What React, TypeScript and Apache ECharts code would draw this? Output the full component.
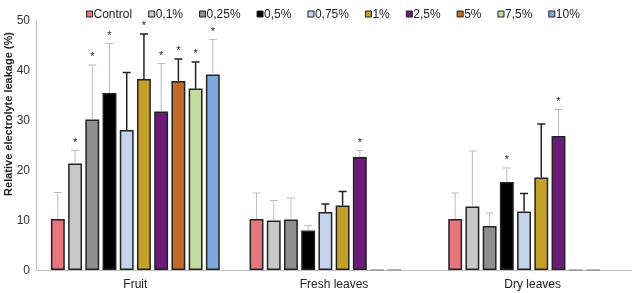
import React, { useEffect, useRef } from "react";
import * as echarts from "echarts";

// Plant material groups on the category axis
const categories = ["Fruit", "Fresh leaves", "Dry leaves"];

// Treatment concentrations (one bar series each)
const treatments = ["Control", "0,1%", "0,25%", "0,5%", "0,75%", "1%", "2,5%", "5%", "7,5%", "10%"];
const treatmentColors = ["#E8767C", "#C8C8C8", "#8E8E8E", "#000000", "#C5D3EC", "#C4A028", "#6B1B78", "#BF6B25", "#C3DAA0", "#7FA8DC"];
// Error bars drawn dark for these treatments, light grey for the rest
const darkErrorBars = [false, false, false, false, true, true, false, true, true, false];

// Mean relative electrolyte leakage (%) per group, in treatment order
const fruitMean = [10.2, 21.3, 30.1, 35.4, 28.0, 38.2, 31.7, 37.8, 36.3, 39.1];
const freshMean = [10.2, 9.9, 10.1, 7.9, 11.6, 12.9, 22.6, 0, 0, null];
const dryMean = [10.2, 12.7, 8.8, 17.6, 11.7, 18.5, 26.8, 0, 0, null];

// Standard deviations (upper error bar)
const fruitSd = [5.3, 2.6, 10.9, 9.9, 11.5, 9.0, 9.6, 4.4, 5.3, 7.0];
const freshSd = [5.2, 4.0, 4.3, 1.0, 1.6, 2.8, 1.3, 0, 0, null];
const drySd = [5.2, 11.1, 2.6, 2.8, 3.6, 10.7, 5.3, 0, 0, null];

// Significance vs. control (1 = marked with an asterisk)
const fruitSig = [0, 1, 1, 1, 0, 1, 1, 1, 1, 1];
const freshSig = [0, 0, 0, 0, 0, 0, 1, 0, 0, 0];
const drySig = [0, 0, 0, 1, 0, 0, 1, 0, 0, 0];

const yTicks = { min: 0, max: 50, interval: 10 };

const FONT = "'Liberation Sans', Arial, sans-serif";
const BAR_GAP = "24%";
const CAT_GAP = "15%";

export default function App() {
  const ref = useRef<HTMLDivElement>(null);

  useEffect(() => {
    if (!ref.current) return;
    const chart = echarts.init(ref.current, undefined, { renderer: "svg" });

    const means = [fruitMean, freshMean, dryMean];
    const sds = [fruitSd, freshSd, drySd];
    const sigs = [fruitSig, freshSig, drySig];

    const barSeries = treatments.map((name, ti) => ({
      name,
      type: "bar",
      barGap: BAR_GAP,
      barCategoryGap: CAT_GAP,
      itemStyle: { color: treatmentColors[ti], borderColor: "#222", borderWidth: 1.5 },
      data: means.map((m) => {
        const v = m[ti];
        if (v === null) return "-";
        if (v === 0) return { value: 0, itemStyle: { borderColor: "#999" } };
        return v;
      }),
    }));

    const errData: number[][] = [];
    means.forEach((m, ci) => {
      m.forEach((v, ti) => {
        const sd = sds[ci][ti];
        if (v === null || sd === null || v === 0) return;
        errData.push([ci, ti, v, sd, sigs[ci][ti]]);
      });
    });

    const errorSeries = {
      type: "custom",
      name: "error",
      z: 5,
      silent: true,
      data: errData,
      renderItem: (params: any, api: any) => {
        const ci = api.value(0);
        const ti = api.value(1);
        const mean = api.value(2);
        const sd = api.value(3);
        const sig = api.value(4);
        const layout = api.barLayout({ count: treatments.length, barGap: BAR_GAP, barCategoryGap: CAT_GAP });
        const x = api.coord([ci, 0])[0] + layout[ti].offsetCenter;
        const yBase = api.coord([ci, mean])[1];
        const yTop = api.coord([ci, mean + sd])[1];
        const dark = darkErrorBars[ti];
        const stroke = dark ? "#222" : "#BDBDBD";
        const lw = dark ? 1.5 : 1;
        const children: any[] = [
          { type: "line", shape: { x1: x, y1: yBase, x2: x, y2: yTop }, style: { stroke, lineWidth: lw } },
          { type: "line", shape: { x1: x - 4, y1: yTop, x2: x + 4, y2: yTop }, style: { stroke, lineWidth: lw } },
        ];
        if (sig) {
          children.push({
            type: "text",
            x,
            y: yTop - 9,
            style: { text: "*", fill: "#222", font: `11px ${FONT}`, align: "center", verticalAlign: "middle" },
          });
        }
        return { type: "group", children };
      },
    };

    chart.setOption({
      animation: false,
      textStyle: { fontFamily: FONT },
      grid: { left: 36, right: -7, top: 20, bottom: 23 },
      legend: {
        data: treatments,
        left: 81,
        top: 3,
        icon: "rect",
        itemWidth: 6,
        itemHeight: 6,
        itemGap: 16,
        itemStyle: { borderWidth: 1, borderColor: "#222" },
        textStyle: { fontSize: 12, color: "#222", fontFamily: FONT, padding: [0, 0, 0, -4] },
      },
      xAxis: {
        type: "category",
        data: categories,
        axisLine: { lineStyle: { color: "#BFBFBF", width: 1 } },
        axisTick: { show: false },
        axisLabel: { fontSize: 12, color: "#222", margin: 8 },
      },
      yAxis: {
        type: "value",
        min: yTicks.min,
        max: yTicks.max,
        interval: yTicks.interval,
        axisLine: { show: true, lineStyle: { color: "#BFBFBF", width: 1 } },
        axisTick: { show: false },
        splitLine: { show: false },
        axisLabel: { fontSize: 12, color: "#333", margin: 6 },
      },
      graphic: [
        {
          type: "text",
          x: 8,
          y: 114,
          rotation: Math.PI / 2,
          style: {
            text: "Relative electrolyte leakage (%)",
            font: `bold 11px ${FONT}`,
            fill: "#222",
            align: "center",
            verticalAlign: "middle",
          },
        },
      ],
      series: [...barSeries, errorSeries],
    });

    return () => chart.dispose();
  }, []);

  return <div ref={ref} style={{ position: "fixed", left: 0, top: 0, width: 632, height: 293 }} />;
}
